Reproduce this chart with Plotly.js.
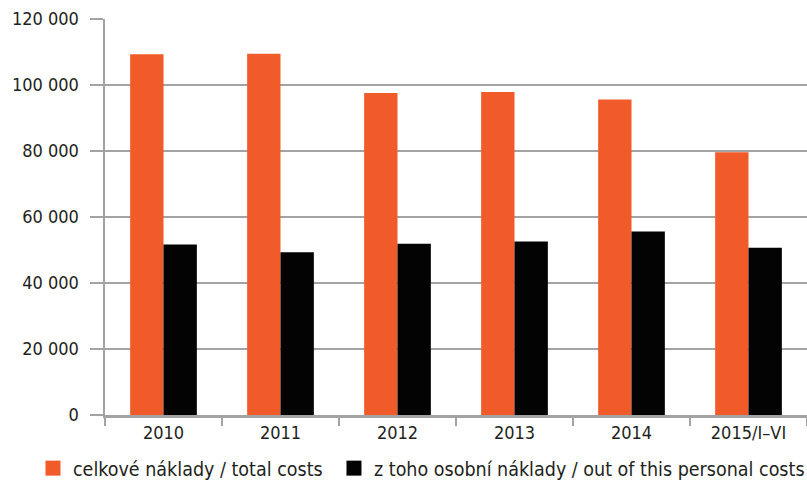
<!DOCTYPE html>
<html>
<head>
<meta charset="utf-8">
<script src="https://cdn.plot.ly/plotly-3.0.1.min.js"></script>
<style>html,body{margin:0;padding:0;background:#fff;}#chart{width:807px;height:482px;}</style>
</head>
<body>
<div id="chart"></div>
<script>
var categories = ["2010", "2011", "2012", "2013", "2014", "2015/I–VI"];
var totalCosts = [109300, 109500, 97600, 97900, 95600, 79600];
var personalCosts = [51700, 49300, 51900, 52600, 55600, 50700];
var seriesNames = ["celkové náklady / total costs", "z toho osobní náklady / out of this personal costs"];
var yTicks = [0, 20000, 40000, 60000, 80000, 100000, 120000];

var FONT = "'Liberation Sans Narrow', 'DejaVu Sans Condensed', 'Arial Narrow', sans-serif";
var ORANGE = "#F15A29";
var BLACK = "#030303";
var GRID = "#A3A3A3";

var traces = [
  {type: "bar", x: categories, y: totalCosts, name: seriesNames[0], marker: {color: ORANGE}, showlegend: false, hoverinfo: "y"},
  {type: "bar", x: categories, y: personalCosts, name: seriesNames[1], marker: {color: BLACK}, showlegend: false, hoverinfo: "y"},
  {type: "scatter", mode: "markers", x: [null], y: [null], name: seriesNames[0], marker: {symbol: "square", size: 15, color: ORANGE}, showlegend: true, legendwidth: 256},
  {type: "scatter", mode: "markers", x: [null], y: [null], name: seriesNames[1], marker: {symbol: "square", size: 15, color: BLACK}, showlegend: true, legendwidth: 450}
];

var layout = {
  width: 807, height: 482,
  margin: {l: 105, r: 0, t: 19, b: 67, pad: 0, autoexpand: false},
  paper_bgcolor: "#fff", plot_bgcolor: "#fff",
  separators: ". ",
  barmode: "group", bargap: 0.43, bargroupgap: 0,
  font: {family: FONT, color: "#231F20", size: 18},
  xaxis: {
    type: "category", categoryarray: categories, categoryorder: "array",
    showline: true, linecolor: GRID, linewidth: 2.5,
    ticks: "outside", tickson: "boundaries", ticklen: 8, tickwidth: 2.5, tickcolor: GRID,
    showgrid: false, zeroline: false,
    tickfont: {family: FONT, size: 18, color: "#231F20"}
  },
  yaxis: {
    range: [0, 120000], tickvals: yTicks, tickformat: ",d",
    showline: true, linecolor: GRID, linewidth: 2.5,
    ticks: "outside", ticklen: 13, tickwidth: 2, tickcolor: GRID,
    showgrid: true, gridcolor: GRID, gridwidth: 2, zeroline: false,
    ticklabelstandoff: 7,
    tickfont: {family: FONT, size: 18, color: "#231F20"}
  },
  showlegend: true,
  legend: {
    orientation: "h", x: -0.1026, xanchor: "left", y: -0.135, yanchor: "middle",
    font: {family: FONT, size: 19.5, color: "#231F20"},
    bgcolor: "rgba(0,0,0,0)", borderwidth: 0, tracegroupgap: 0
  }
};

Plotly.newPlot("chart", traces, layout, {displayModeBar: false, staticPlot: true});
</script>
</body>
</html>
